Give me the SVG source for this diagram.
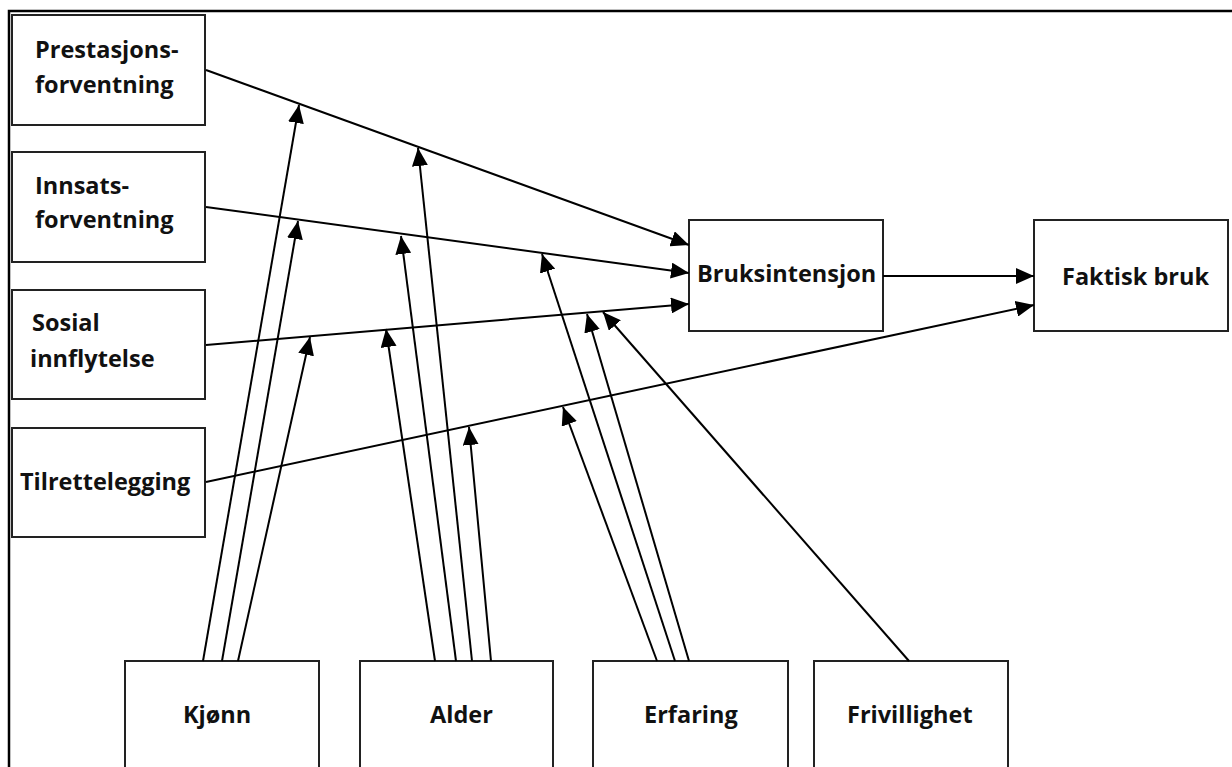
<svg xmlns="http://www.w3.org/2000/svg" width="1232" height="767" viewBox="0 0 1232 767">
  <defs>
    <marker id="arrow" markerUnits="userSpaceOnUse" markerWidth="18" markerHeight="16" refX="18" refY="8" orient="auto">
      <path d="M0,0 L18,8 L0,16 z" fill="#000"/>
    </marker>
    <style>
      .box { fill: #fff; stroke: #222; stroke-width: 2; }
      .lbl { font-family: "Open Sans", "Noto Sans", sans-serif; font-weight: bold; font-size: 23.5px; fill: #111; }
      .edge { stroke: #000; stroke-width: 2; fill: none; marker-end: url(#arrow); }
      .frame { stroke: #000; stroke-width: 2.5; fill: none; }
    </style>
  </defs>

  <rect width="1232" height="767" fill="#fff"/>

  <!-- outer frame: left and top edges only -->
  <path class="frame" d="M9,767 V11 H1232"/>

  <!-- predictor boxes -->
  <g id="prestasjonsforventning">
    <rect class="box" x="12" y="15" width="193" height="110"/>
    <text class="lbl" x="35" y="58">Prestasjons-</text>
    <text class="lbl" x="35" y="93">forventning</text>
  </g>
  <g id="innsatsforventning">
    <rect class="box" x="12" y="152" width="193" height="110"/>
    <text class="lbl" x="35" y="194">Innsats-</text>
    <text class="lbl" x="35" y="228">forventning</text>
  </g>
  <g id="sosial-innflytelse">
    <rect class="box" x="12" y="290" width="193" height="109"/>
    <text class="lbl" x="32" y="331">Sosial</text>
    <text class="lbl" x="30" y="367">innflytelse</text>
  </g>
  <g id="tilrettelegging">
    <rect class="box" x="12" y="428" width="193" height="109"/>
    <text class="lbl" x="20" y="490">Tilrettelegging</text>
  </g>

  <!-- outcome boxes -->
  <g id="bruksintensjon">
    <rect class="box" x="689" y="220" width="194" height="111"/>
    <text class="lbl" x="697" y="282">Bruksintensjon</text>
  </g>
  <g id="faktisk-bruk">
    <rect class="box" x="1034" y="220" width="194" height="111"/>
    <text class="lbl" x="1062" y="285">Faktisk bruk</text>
  </g>

  <!-- moderator boxes (open at the bottom edge) -->
  <g id="kjonn">
    <rect class="box" x="125" y="661" width="194" height="130"/>
    <text class="lbl" x="183" y="723">Kjønn</text>
  </g>
  <g id="alder">
    <rect class="box" x="360" y="661" width="193" height="130"/>
    <text class="lbl" x="430" y="723">Alder</text>
  </g>
  <g id="erfaring">
    <rect class="box" x="593" y="661" width="195" height="130"/>
    <text class="lbl" x="644" y="723">Erfaring</text>
  </g>
  <g id="frivillighet">
    <rect class="box" x="814" y="661" width="194" height="130"/>
    <text class="lbl" x="847" y="723">Frivillighet</text>
  </g>

  <!-- connectors -->
  <g id="connectors">
    <!-- main paths -->
    <line class="edge" x1="206" y1="70" x2="689" y2="245"/>
    <line class="edge" x1="206" y1="207" x2="689" y2="273"/>
    <line class="edge" x1="206" y1="345" x2="689" y2="304"/>
    <line class="edge" x1="206" y1="482" x2="1034" y2="305"/>
    <line class="edge" x1="883" y1="276" x2="1034" y2="276"/>

    <!-- Kjønn moderation -->
    <line class="edge" x1="203" y1="661" x2="299" y2="105"/>
    <line class="edge" x1="222" y1="661" x2="298" y2="221"/>
    <line class="edge" x1="238" y1="661" x2="310" y2="337"/>

    <!-- Alder moderation -->
    <line class="edge" x1="435" y1="661" x2="386" y2="329"/>
    <line class="edge" x1="456" y1="661" x2="401" y2="236"/>
    <line class="edge" x1="472" y1="661" x2="418" y2="148"/>
    <line class="edge" x1="491" y1="661" x2="469" y2="427"/>

    <!-- Erfaring moderation -->
    <line class="edge" x1="657" y1="661" x2="563" y2="407"/>
    <line class="edge" x1="675" y1="661" x2="542" y2="254"/>
    <line class="edge" x1="689" y1="661" x2="587" y2="314"/>

    <!-- Frivillighet moderation -->
    <line class="edge" x1="909" y1="661" x2="603" y2="312"/>
  </g>
</svg>
